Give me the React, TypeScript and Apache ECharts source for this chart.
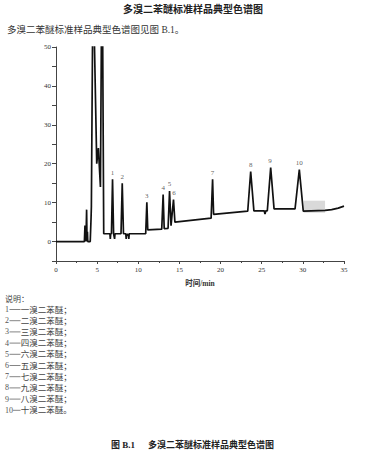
import React, { useEffect, useRef } from "react";
import * as echarts from "echarts";

// ---- data ----
const traceTime = [
  0, 3.45, 3.48, 3.52, 3.56, 3.6, 3.64, 3.68, 3.72, 3.77, 3.82, 3.86, 4.16, 4.26, 4.3, 4.5,
  4.95, 5.15, 5.4, 5.6, 5.8, 6.55, 6.6, 6.65, 6.74, 6.87, 7.0, 7.07, 7.12, 7.17, 7.9, 8.05,
  8.2, 8.48, 8.53, 8.58, 8.7, 8.78, 8.85, 8.9, 10.9, 11.04, 11.15, 12.85, 13.02, 13.15, 13.62,
  13.8, 13.98, 14.28, 14.45, 18.85, 19.03, 19.15, 23.3, 23.66, 24.05, 25.3, 25.4, 25.5, 25.68,
  26.09, 26.5, 29.05, 29.57, 30.05, 31.0, 32.7, 33.5, 34.3, 35.0,
];
const traceSignal = [
  0, 0, 0, 4.1, 0, 2, 0, 0, 8.2, 0, 2.5, 0, 0, 6, 9, 70,
  20, 24, 14, 80, 2, 2, 0.7, 2, 2, 16, 2, 2, 0.7, 2, 2, 15,
  2, 2, 0.7, 2, 1.5, 2, 0.7, 2, 2, 10.1, 3.0, 3.2, 12.1, 3.3, 3.4,
  13.0, 4.1, 10.8, 5.0, 6.0, 16.0, 7.0, 7.8, 18.0, 7.9, 7.9, 7.1, 7.9, 7.9,
  19.0, 8.4, 8.4, 18.5, 7.8, 7.9, 8.0, 8.2, 8.6, 9.1,
];

const peakLabels = ["1", "2", "3", "4", "5", "6", "7", "8", "9", "10"];
const peakTimes = [6.87, 8.05, 11.04, 13.02, 13.8, 14.35, 19.03, 23.66, 26.0, 29.57];
const peakHeights = [16.0, 15.0, 10.1, 12.1, 13.0, 10.8, 16.0, 18.0, 19.0, 18.5];

// shaded box after peak 10: [t0, y0, t1, y1]
const shadedRegion = [30.1, 10.5, 32.7, 7.4];

const xTicks = [0, 5, 10, 15, 20, 25, 30, 35];
const yTickLabels = [0, 10, 20, 30, 40, 50];

const compoundNames = [
  "一溴二苯醚；",
  "二溴二苯醚；",
  "三溴二苯醚；",
  "四溴二苯醚；",
  "六溴二苯醚；",
  "五溴二苯醚；",
  "七溴二苯醚；",
  "九溴二苯醚；",
  "八溴二苯醚；",
  "十溴二苯醚。",
];

const titleText = "多溴二苯醚标准样品典型色谱图";
const introText = "多溴二苯醚标准样品典型色谱图见图 B.1。";
const legendHeader = "说明：";
const captionFig = "图 B.1";
const captionText = "多溴二苯醚标准样品典型色谱图";
const xAxisName = "时间/min";

const FONT = "'Liberation Serif', 'DejaVu Serif', 'Noto Sans CJK SC', serif";

export default function App() {
  const ref = useRef<HTMLDivElement>(null);

  useEffect(() => {
    if (!ref.current) return;
    const chart = echarts.init(ref.current, undefined, { renderer: "svg" });

    const trace = traceTime.map((t, i) => [t, traceSignal[i]]);
    const peaks = peakTimes.map((t, i) => ({ value: [t, peakHeights[i]], name: peakLabels[i] }));

    const graphics: any[] = [
      {
        type: "text",
        x: 193,
        y: 4,
        style: { text: titleText, font: `bold 10px ${FONT}`, fill: "#222", textAlign: "center" },
      },
      {
        type: "text",
        x: 7,
        y: 25,
        style: { text: introText, font: `9.5px ${FONT}`, fill: "#333" },
      },
      {
        type: "text",
        x: 5,
        y: 295,
        style: { text: legendHeader, font: `8px ${FONT}`, fill: "#444" },
      },
      {
        type: "text",
        x: 111,
        y: 440,
        style: { text: captionFig, font: `bold 9px ${FONT}`, fill: "#222" },
      },
      {
        type: "text",
        x: 148,
        y: 440,
        style: { text: captionText, font: `bold 9px ${FONT}`, fill: "#222" },
      },
    ];
    compoundNames.forEach((name, i) => {
      const y = 309.5 + i * 11.2;
      const num = String(i + 1);
      graphics.push({
        type: "text",
        x: 5,
        y: y,
        style: { text: num, font: `8px ${FONT}`, fill: "#555", verticalAlign: "middle" },
      });
      graphics.push({
        type: "line",
        shape: { x1: num.length > 1 ? 13 : 9.5, y1: y, x2: 20.5, y2: y },
        style: { stroke: "#666", lineWidth: 0.8 },
      });
      graphics.push({
        type: "text",
        x: 20.7,
        y: y,
        style: { text: name, font: `8.5px ${FONT}`, fill: "#444", verticalAlign: "middle" },
      });
    });

    chart.setOption({
      animation: false,
      backgroundColor: "#fff",
      grid: { left: 56, right: 22, top: 47, bottom: 196, containLabel: false },
      xAxis: {
        type: "value",
        min: 0,
        max: 35,
        interval: 5,
        name: xAxisName,
        nameLocation: "middle",
        nameGap: 19,
        nameTextStyle: { fontFamily: FONT, fontSize: 7.5, color: "#333", fontWeight: "bold" },
        axisLine: { show: true, onZero: false, lineStyle: { color: "#444", width: 1 } },
        axisTick: { show: true, length: 3, lineStyle: { color: "#444" } },
        minorTick: { show: true, splitNumber: 2, length: 2, lineStyle: { color: "#444" } },
        splitLine: { show: false },
        axisLabel: {
          fontFamily: FONT,
          fontSize: 7,
          color: "#333",
          margin: 5,
          formatter: (v: number) => (xTicks.includes(v) ? String(v) : ""),
        },
      },
      yAxis: {
        type: "value",
        min: -5,
        max: 50,
        interval: 5,
        axisLine: { show: true, onZero: false, lineStyle: { color: "#444", width: 1 } },
        axisTick: { show: true, length: 4, lineStyle: { color: "#444" } },
        splitLine: { show: false },
        axisLabel: {
          fontFamily: FONT,
          fontSize: 7,
          color: "#333",
          margin: 5,
          formatter: (v: number) => (yTickLabels.includes(v) ? String(v) : ""),
        },
      },
      series: [
        {
          type: "line",
          data: trace,
          showSymbol: false,
          symbol: "none",
          clip: true,
          color: "#111",
          lineStyle: { color: "#111", width: 1.7 },
          markArea: {
            silent: true,
            itemStyle: { color: "#d9d9d9" },
            data: [
              [
                { xAxis: shadedRegion[0], yAxis: shadedRegion[1] },
                { xAxis: shadedRegion[2], yAxis: shadedRegion[3] },
              ],
            ],
          },
          z: 3,
        },
        {
          type: "scatter",
          data: peaks,
          symbol: "circle",
          symbolSize: 0.01,
          color: "#333",
          itemStyle: { color: "#333" },
          label: {
            show: true,
            position: "top",
            distance: 3,
            formatter: (p: any) => p.name,
            fontFamily: FONT,
            fontSize: 7,
            color: "#333",
            textBorderWidth: 0,
          },
          z: 4,
        },
      ],
      graphic: graphics,
    });

    return () => chart.dispose();
  }, []);

  return (
    <div
      ref={ref}
      style={{ position: "absolute", left: 0, top: 0, width: 366, height: 457, background: "#fff" }}
    />
  );
}
